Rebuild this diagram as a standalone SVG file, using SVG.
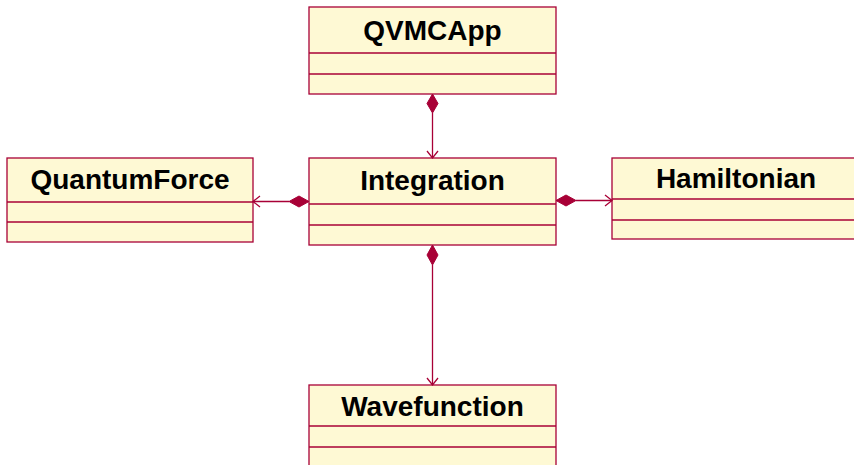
<svg xmlns="http://www.w3.org/2000/svg" width="854" height="465" viewBox="0 0 854 465">
  <style>
    .box { fill: #FEF9D4; stroke: #A80036; stroke-width: 1.3; }
    .sep { stroke: #A80036; stroke-width: 1.3; fill: none; }
    .title { font-family: "Liberation Sans", Arial, sans-serif; font-weight: bold; font-size: 28px; fill: #000; text-anchor: middle; }
    .link { stroke: #A80036; stroke-width: 1.3; fill: none; }
    .diamond { fill: #A80036; stroke: #A80036; stroke-width: 1; }
  </style>
  <rect width="854" height="465" fill="#FFFFFF"/>

  <g id="QVMCApp">
    <rect class="box" x="309" y="7" width="247" height="87"/>
    <line class="sep" x1="309" y1="53" x2="556" y2="53"/>
    <line class="sep" x1="309" y1="74" x2="556" y2="74"/>
    <text class="title" x="432.5" y="39.5">QVMCApp</text>
  </g>

  <g id="Integration">
    <rect class="box" x="309" y="158" width="247" height="87"/>
    <line class="sep" x1="309" y1="204" x2="556" y2="204"/>
    <line class="sep" x1="309" y1="225" x2="556" y2="225"/>
    <text class="title" x="432.5" y="190">Integration</text>
  </g>

  <g id="QuantumForce">
    <rect class="box" x="7" y="158" width="246" height="84"/>
    <line class="sep" x1="7" y1="202" x2="253" y2="202"/>
    <line class="sep" x1="7" y1="222" x2="253" y2="222"/>
    <text class="title" x="130" y="189">QuantumForce</text>
  </g>

  <g id="Hamiltonian">
    <rect class="box" x="612" y="158" width="250" height="81"/>
    <line class="sep" x1="612" y1="199" x2="862" y2="199"/>
    <line class="sep" x1="612" y1="220" x2="862" y2="220"/>
    <text class="title" x="736" y="188">Hamiltonian</text>
  </g>

  <g id="Wavefunction">
    <rect class="box" x="309" y="385" width="247" height="90"/>
    <line class="sep" x1="309" y1="426" x2="556" y2="426"/>
    <line class="sep" x1="309" y1="447" x2="556" y2="447"/>
    <text class="title" x="432.5" y="416">Wavefunction</text>
  </g>

  <g id="connectors">
    <!-- QVMCApp composes Integration -->
    <line class="link" x1="432.5" y1="113" x2="432.5" y2="158"/>
    <polygon class="diamond" points="432.5,94 438,103.5 432.5,113 427,103.5"/>
    <polyline class="link" points="427,151 432.5,158 438,151"/>

    <!-- Integration composes QuantumForce -->
    <line class="link" x1="289" y1="201.5" x2="253" y2="201.5"/>
    <polygon class="diamond" points="309,201.5 299,196 289,201.5 299,207"/>
    <polyline class="link" points="260,196 253,201.5 260,207"/>

    <!-- Integration composes Hamiltonian -->
    <line class="link" x1="576" y1="200.5" x2="612" y2="200.5"/>
    <polygon class="diamond" points="556,200.5 566,195 576,200.5 566,206"/>
    <polyline class="link" points="605,195 612,200.5 605,206"/>

    <!-- Integration composes Wavefunction -->
    <line class="link" x1="432.5" y1="265" x2="432.5" y2="385"/>
    <polygon class="diamond" points="432.5,245 438,255 432.5,265 427,255"/>
    <polyline class="link" points="427,378 432.5,385 438,378"/>
  </g>
</svg>
